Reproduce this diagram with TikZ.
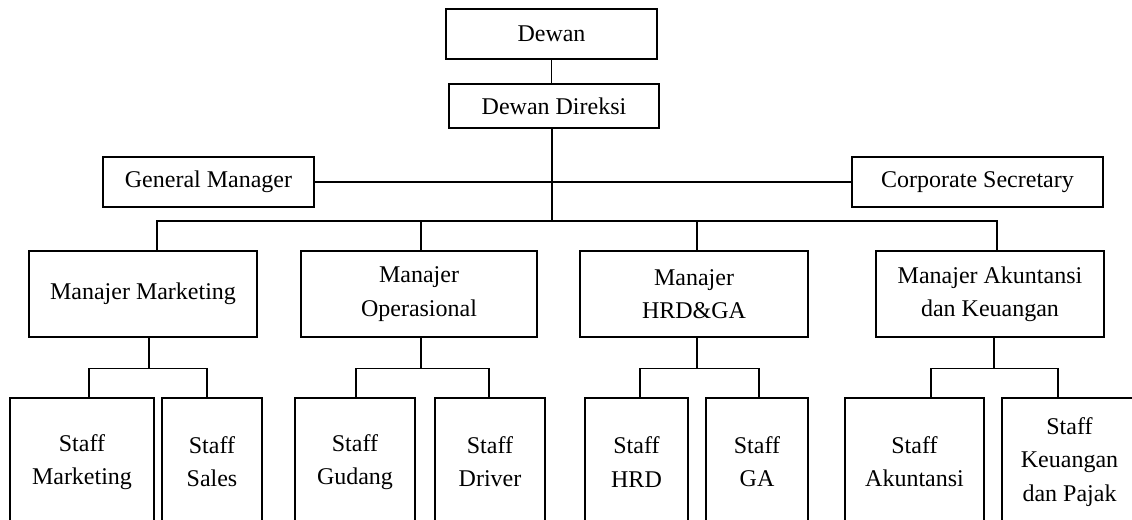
\documentclass[tikz,border=0pt]{standalone}
\usepackage{fontspec}
\setmainfont{Liberation Serif}
\usetikzlibrary{calc}
\tikzset{
  box/.style={draw, line width=0.8pt, inner sep=0pt, align=center,
    font=\fontsize{18}{25}\selectfont},
  wh/.style 2 args={minimum width=#1*0.75pt, minimum height=#2*0.75pt},
  link/.style={line width=0.8pt},
}
\begin{document}
\begin{tikzpicture}[x=0.75pt, y=-0.75pt]
\useasboundingbox (0,0) rectangle (1132,520);
\clip (0,0) rectangle (1132,520);
\node[box, wh={211}{50}] (dewan) at (551.5,34) {Dewan};
\node[box, wh={210}{44}] (direksi) at (554,106) {Dewan Direksi};
\node[box, wh={211}{50}] (gm) at (208.5,182) {General Manager};
\node[box, wh={251}{50}] (cs) at (977.5,182) {Corporate Secretary};
\foreach \n/\x/\w/\t in {mm/143/228/{Manajer Marketing}, mo/419/236/{Manajer\\Operasional},
    mh/694/228/{Manajer\\HRD\&GA}, ma/990/228/{Manajer Akuntansi\\dan Keuangan}}
{
    \node[box, wh={\w}{86}] (\n) at (\x,294) {\t};
}
\foreach \n/\x/\w/\t in {sm/82/144/{Staff\\Marketing}, ss/212/100/{Staff\\Sales},
    sg/355/120/{Staff\\Gudang}, sd/490/110/{Staff\\Driver},
    sh/636.5/103/{Staff\\HRD}, sga/757/102/{Staff\\GA},
    sa/914.5/139/{Staff\\Akuntansi}, sk/1069.5/135/{Staff\\Keuangan\\dan Pajak}}
{
    \node[box, wh={\w}{128}] (\n) at (\x,462) {\t};
}
\coordinate (bus) at (552,221);
\draw[link] (dewan.south) -- (dewan.south |- direksi.north);
\draw[link] (gm.east) -- (cs.west);
\draw[link] ($(direksi.south)+(-2,0)$) -- (bus);
\draw[link] ($(mm.north)+(14,0)$) |- (bus) -| ($(ma.north)+(7,0)$);
\foreach \m/\d in {mo/2, mh/3}
{
    \draw[link] ($(\m.north)+(\d,0)$) |- (bus);
}
\foreach \m/\a/\b/\dm/\da/\db in {mm/sm/ss/6/7/-5, mo/sg/sd/2/1/-1,
    mh/sh/sga/3/3.5/2, ma/sa/sk/4/16.5/-11.5}
{
    \coordinate (j\m) at ($(\m.south)+(\dm,31)$);
    \draw[link] ($(\m.south)+(\dm,0)$) -- (j\m);
    \draw[link] ($(\a.north)+(\da,0)$) |- (j\m) -| ($(\b.north)+(\db,0)$);
}
\end{tikzpicture}
\end{document}
